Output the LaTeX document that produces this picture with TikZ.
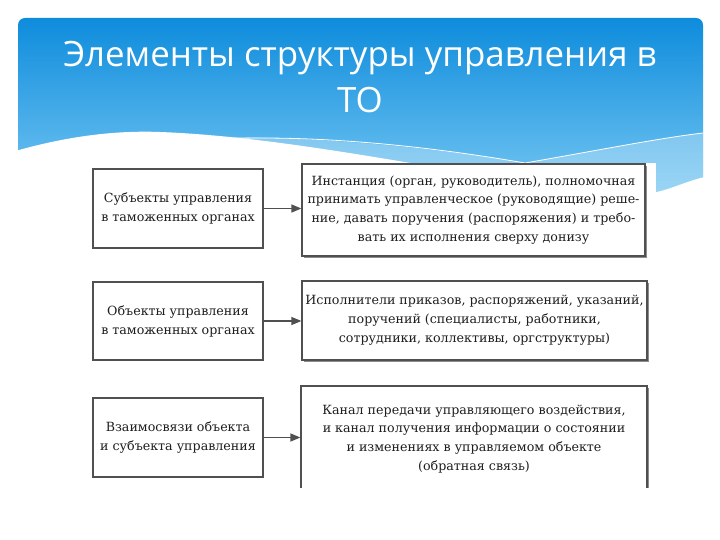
\documentclass[tikz,border=0pt]{standalone}
\usepackage{fontspec}
\setmainfont{DejaVu Serif}
\newfontfamily\titlefont{Open Sans}
\usetikzlibrary{arrows.meta,shadows}
\definecolor{hdrtop}{RGB}{14,140,220}
\definecolor{hdrbot}{RGB}{120,200,243}
\definecolor{boxline}{RGB}{80,80,80}
\definecolor{boxtext}{RGB}{30,30,30}
\tikzset{
  lbox/.style={draw=boxline, line width=1.2bp, fill=white, minimum width=170bp, align=center,
    text=boxtext, font=\fontsize{12.7}{19}\selectfont, inner sep=0pt},
  rbox/.style={lbox, drop shadow={shadow xshift=1.8bp, shadow yshift=-1.8bp, fill=black!45, opacity=1}},
  conn/.style={draw=boxline, line width=1.2bp, -{Triangle[length=10bp,width=8bp]}},
  ttl/.style={text=white, font=\titlefont\fontsize{35}{46}\selectfont, anchor=base, inner sep=0pt}
}
\begin{document}
\begin{tikzpicture}[x=1bp,y=-1bp]
\useasboundingbox (0,0) rectangle (720,540);
\fill[white] (0,0) rectangle (720,540);
% header
\shade[top color=hdrtop, bottom color=hdrbot, rounded corners=7bp] (18,18) rectangle (703,200);
% translucent wave band
\fill[white, opacity=0.28] (150,138) .. controls (300,132) and (450,150) .. (525,163)
  .. controls (600,150) and (660,138) .. (703,133) -- (703,205) -- (150,205) -- cycle;
\draw[white, line width=0.8bp] (200,140) .. controls (320,132) and (450,150) .. (525,163)
  .. controls (600,150) and (660,138) .. (703,133);
% white wave
\fill[white] (12,152) .. controls (60,138) and (110,130) .. (160,132)
  .. controls (320,138) and (520,190) .. (640,194)
  .. controls (665,194) and (685,180) .. (710,176) -- (710,215) -- (12,215) -- cycle;
% title
\node[ttl] (t1) at (360,67) {Элементы структуры управления в};
\node[ttl] (t2) at (360,113) {ТО};
% embedded picture area
\fill[white] (85,163) rectangle (656,487);
% boxes
\node[lbox, minimum height=79bp] (l1) at (178,208.5) {Субъекты управления\\в таможенных органах};
\node[rbox, minimum width=343bp, minimum height=92bp] (r1) at (473.5,210)
  {Инстанция (орган, руководитель), полномочная\\принимать управленческое (руководящие) реше-\\ние, давать поручения (распоряжения) и требо-\\вать их исполнения сверху донизу};
\node[lbox, minimum height=78bp] (l2) at (178,321) {Объекты управления\\в таможенных органах};
\node[rbox, minimum width=345bp, minimum height=79bp] (r2) at (474.5,320.5)
  {Исполнители приказов, распоряжений, указаний,\\поручений (специалисты, работники,\\сотрудники, коллективы, оргструктуры)};
\node[lbox, minimum height=79bp] (l3) at (178,437.5) {Взаимосвязи объекта\\и субъекта управления};
\node[rbox, minimum width=346bp, minimum height=106bp] (r3) at (474,439)
  {Канал передачи управляющего воздействия,\\и канал получения информации о состоянии\\и изменениях в управляемом объекте\\(обратная связь)};
% cut the picture at the bottom
\fill[white] (85,487.5) rectangle (660,505);
% connectors
\draw[conn] (l1.east) -- (l1.east -| r1.west);
\draw[conn] (l2.east) -- (l2.east -| r2.west);
\draw[conn] (l3.east) -- (l3.east -| r3.west);
\end{tikzpicture}
\end{document}
